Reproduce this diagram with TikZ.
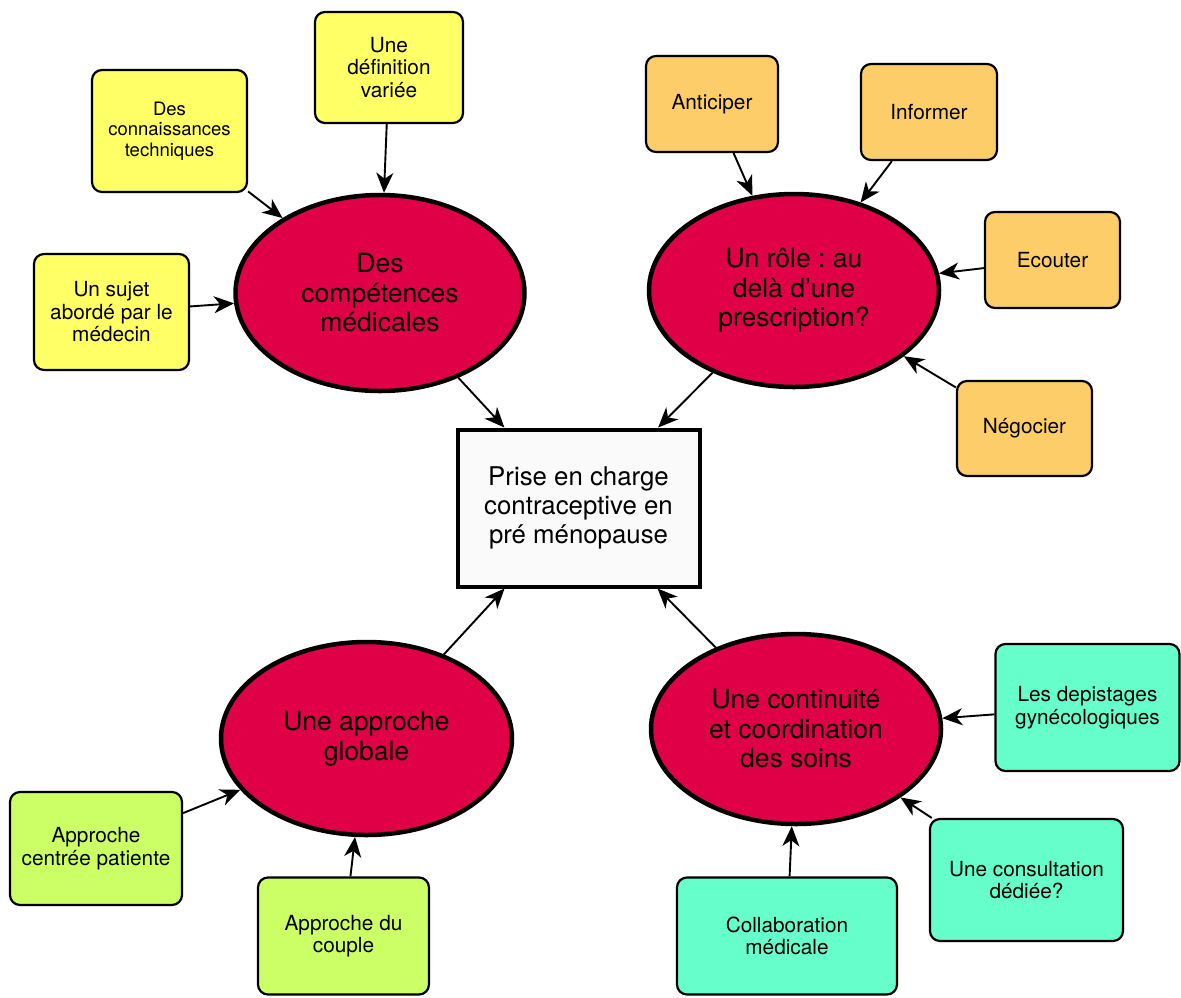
\documentclass[tikz,border=0pt]{standalone}
\usepackage{fontspec}
\setmainfont{TeX Gyre Heros}
\usetikzlibrary{shapes.geometric,arrows.meta}
\definecolor{crim}{HTML}{DF0048}
\definecolor{yel}{HTML}{FFFF66}
\definecolor{ora}{HTML}{FDCD6A}
\definecolor{lime}{HTML}{CCFF66}
\definecolor{aqua}{HTML}{66FFCC}
\definecolor{pale}{HTML}{FAFAFA}
\tikzset{
  bigell/.style={ellipse,draw,line width=4.5pt,fill=crim,inner sep=0pt,align=center,
    font=\fontsize{26.5}{29.5}\selectfont},
  leaf/.style={rectangle,rounded corners=10pt,draw,line width=2.2pt,inner sep=0pt,align=center,
    font=\fontsize{20.8}{22.5}\selectfont},
  centerbox/.style={rectangle,draw,line width=4pt,fill=pale,inner sep=0pt,align=center,
    font=\fontsize{25.8}{29}\selectfont},
  conn/.style={line width=1.9pt,-{Stealth[length=20pt,width=17pt,inset=6pt]}}
}
\begin{document}
\frenchspacing
\begin{tikzpicture}[x=1pt,y=-1pt]
\useasboundingbox (0,0) rectangle (1181,997);
% center
\node[centerbox,minimum width=242pt,minimum height=157pt] (C) at (578.5,508) {Prise en charge\\contraceptive en\\pré ménopause};
% ellipses
\node[bigell,minimum width=289pt,minimum height=196pt] (E1) at (380,293) {Des\\compétences\\médicales};
\node[bigell,minimum width=290pt,minimum height=193pt] (E2) at (794,290.5) {Un rôle : au\\delà d’une\\prescription?};
\node[bigell,minimum width=291pt,minimum height=193pt] (E3) at (366.5,738.5) {Une approche\\globale};
\node[bigell,minimum width=290pt,minimum height=190pt] (E4) at (796,729) {Une continuité\\et coordination\\des soins};
% yellow
\node[leaf,fill=yel,minimum width=148pt,minimum height=111pt] (Y1) at (389,67.5) {Une\\définition\\variée};
\node[leaf,fill=yel,minimum width=155pt,minimum height=122pt,font=\fontsize{18.5}{20.5}\selectfont] (Y2) at (169.5,131) {Des\\connaissances\\techniques};
\node[leaf,fill=yel,minimum width=155pt,minimum height=116pt] (Y3) at (111.5,312) {Un sujet\\abordé par le\\médecin};
% orange
\node[leaf,fill=ora,minimum width=132pt,minimum height=96pt] (O1) at (712,104) {Anticiper};
\node[leaf,fill=ora,minimum width=136pt,minimum height=96pt] (O2) at (929,112) {Informer};
\node[leaf,fill=ora,minimum width=135pt,minimum height=96pt] (O3) at (1052.5,260) {Ecouter};
\node[leaf,fill=ora,minimum width=135pt,minimum height=95pt] (O4) at (1024.5,428.5) {Négocier};
% lime
\node[leaf,fill=lime,minimum width=172pt,minimum height=113pt] (G1) at (96,848.5) {Approche\\centrée patiente};
\node[leaf,fill=lime,minimum width=171pt,minimum height=117pt] (G2) at (343.5,936) {Approche du\\couple};
% aqua
\node[leaf,fill=aqua,minimum width=184pt,minimum height=127pt] (A1) at (1087.5,707.5) {Les depistages\\gynécologiques};
\node[leaf,fill=aqua,minimum width=193pt,minimum height=122pt] (A2) at (1026.5,880) {Une consultation\\dédiée?};
\node[leaf,fill=aqua,minimum width=220pt,minimum height=117pt] (A3) at (787,936) {Collaboration\\médicale};
% connectors
\draw[conn] (Y1) -- (E1);
\draw[conn] (Y2) -- (E1);
\draw[conn] (Y3) -- (E1);
\draw[conn] (O1) -- (E2);
\draw[conn] (O2) -- (E2);
\draw[conn] (O3) -- (E2);
\draw[conn] (O4) -- (E2);
\draw[conn] (G1) -- (E3);
\draw[conn] (G2) -- (E3);
\draw[conn] (A1) -- (E4);
\draw[conn] (A2) -- (E4);
\draw[conn] (A3) -- (E4);
\draw[conn] (E1) -- (C);
\draw[conn] (E2) -- (C);
\draw[conn] (E3) -- (C);
\draw[conn] (E4) -- (C);
\end{tikzpicture}
\end{document}
